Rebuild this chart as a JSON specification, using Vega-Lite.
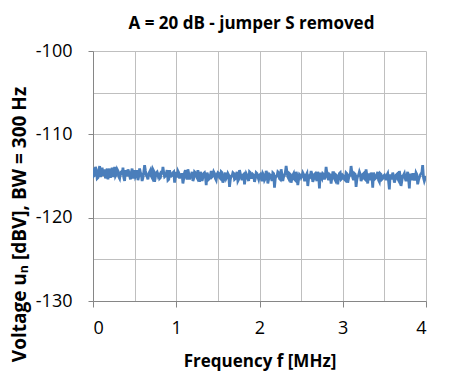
{
  "$schema": "https://vega.github.io/schema/vega-lite/v6.json",
  "width": 333,
  "height": 250,
  "autosize": "none",
  "padding": {"left": 93, "top": 51, "right": 45, "bottom": 90},
  "background": "white",
  "config": {"view": {"stroke": null}},
  "title": {"text": "A = 20 dB - jumper S removed", "font": "Open Sans", "fontSize": 17, "fontWeight": "bold", "color": "#000000", "anchor": "middle", "frame": "group", "dx": -8, "offset": 9},
  "data": {"values": [
    {"f":0,"u":-114.0},{"f":0.02,"u":-114.9},{"f":0.04,"u":-114.3},{"f":0.06,"u":-115.2},{"f":0.08,"u":-113.8},{"f":0.1,"u":-114.7},{"f":0.12,"u":-115.0},{"f":0.14,"u":-114.2},{"f":0.16,"u":-114.8},{"f":0.18,"u":-115.4},
    {"f":0.2,"u":-114.1},{"f":0.22,"u":-114.6},{"f":0.24,"u":-115.1},{"f":0.26,"u":-113.9},{"f":0.28,"u":-114.8},{"f":0.3,"u":-114.4},{"f":0.32,"u":-115.3},{"f":0.34,"u":-114.5},{"f":0.36,"u":-114.0},{"f":0.38,"u":-115.6},
    {"f":0.4,"u":-114.7},{"f":0.42,"u":-114.2},{"f":0.44,"u":-115.0},{"f":0.46,"u":-114.6},{"f":0.48,"u":-115.3},{"f":0.5,"u":-114.3},
    {"f":0.52,"u":-114.9},{"f":0.54,"u":-115.5},{"f":0.56,"u":-114.1},{"f":0.58,"u":-114.8},{"f":0.6,"u":-115.2},{"f":0.62,"u":-113.7},{"f":0.64,"u":-114.9},{"f":0.66,"u":-115.4},{"f":0.68,"u":-114.5},{"f":0.7,"u":-115.0},
    {"f":0.72,"u":-114.2},{"f":0.74,"u":-115.7},{"f":0.76,"u":-114.6},{"f":0.78,"u":-114.9},{"f":0.8,"u":-115.3},{"f":0.82,"u":-114.4},{"f":0.84,"u":-113.9},{"f":0.86,"u":-115.1},{"f":0.88,"u":-114.7},{"f":0.9,"u":-115.5},
    {"f":0.92,"u":-114.3},{"f":0.94,"u":-115.0},{"f":0.96,"u":-114.6},{"f":0.98,"u":-115.8},{"f":1.0,"u":-114.5},
    {"f":1.02,"u":-114.4},{"f":1.04,"u":-115.3},{"f":1.06,"u":-114.8},{"f":1.08,"u":-115.9},{"f":1.1,"u":-114.6},{"f":1.12,"u":-115.1},{"f":1.14,"u":-114.2},{"f":1.16,"u":-115.4},{"f":1.18,"u":-114.9},{"f":1.2,"u":-115.6},
    {"f":1.22,"u":-114.5},{"f":1.24,"u":-115.0},{"f":1.26,"u":-114.3},{"f":1.28,"u":-115.7},{"f":1.3,"u":-114.8},{"f":1.32,"u":-115.2},{"f":1.34,"u":-114.6},{"f":1.36,"u":-116.1},{"f":1.38,"u":-114.9},{"f":1.4,"u":-115.3},
    {"f":1.42,"u":-114.4},{"f":1.44,"u":-115.0},{"f":1.46,"u":-114.7},{"f":1.48,"u":-115.5},{"f":1.5,"u":-114.6},
    {"f":1.52,"u":-115.2},{"f":1.54,"u":-114.5},{"f":1.56,"u":-115.8},{"f":1.58,"u":-114.9},{"f":1.6,"u":-115.3},{"f":1.62,"u":-114.7},{"f":1.64,"u":-116.3},{"f":1.66,"u":-115.0},{"f":1.68,"u":-114.6},{"f":1.7,"u":-115.4},
    {"f":1.72,"u":-114.8},{"f":1.74,"u":-115.6},{"f":1.76,"u":-114.3},{"f":1.78,"u":-115.1},{"f":1.8,"u":-114.9},{"f":1.82,"u":-116.0},{"f":1.84,"u":-114.7},{"f":1.86,"u":-115.3},{"f":1.88,"u":-114.5},{"f":1.9,"u":-115.2},
    {"f":1.92,"u":-114.8},{"f":1.94,"u":-115.7},{"f":1.96,"u":-114.6},{"f":1.98,"u":-115.1},{"f":2.0,"u":-114.9},
    {"f":2.02,"u":-115.3},{"f":2.04,"u":-114.7},{"f":2.06,"u":-115.5},{"f":2.08,"u":-114.4},{"f":2.1,"u":-115.9},{"f":2.12,"u":-114.8},{"f":2.14,"u":-115.2},{"f":2.16,"u":-114.6},{"f":2.18,"u":-116.4},{"f":2.2,"u":-115.0},
    {"f":2.22,"u":-114.5},{"f":2.24,"u":-115.3},{"f":2.26,"u":-114.2},{"f":2.28,"u":-115.6},{"f":2.3,"u":-114.9},{"f":2.32,"u":-113.8},{"f":2.34,"u":-115.1},{"f":2.36,"u":-114.7},{"f":2.38,"u":-115.8},{"f":2.4,"u":-114.9},
    {"f":2.42,"u":-115.4},{"f":2.44,"u":-114.5},{"f":2.46,"u":-116.1},{"f":2.48,"u":-114.8},{"f":2.5,"u":-115.2},
    {"f":2.52,"u":-114.6},{"f":2.54,"u":-115.5},{"f":2.56,"u":-114.9},{"f":2.58,"u":-116.2},{"f":2.6,"u":-115.0},{"f":2.62,"u":-114.4},{"f":2.64,"u":-115.7},{"f":2.66,"u":-114.8},{"f":2.68,"u":-115.3},{"f":2.7,"u":-114.5},
    {"f":2.72,"u":-116.5},{"f":2.74,"u":-115.1},{"f":2.76,"u":-114.7},{"f":2.78,"u":-115.4},{"f":2.8,"u":-113.9},{"f":2.82,"u":-115.2},{"f":2.84,"u":-114.8},{"f":2.86,"u":-115.9},{"f":2.88,"u":-114.6},{"f":2.9,"u":-115.3},
    {"f":2.92,"u":-114.9},{"f":2.94,"u":-116.0},{"f":2.96,"u":-114.7},{"f":2.98,"u":-115.4},{"f":3.0,"u":-114.9},
    {"f":3.02,"u":-115.4},{"f":3.04,"u":-114.6},{"f":3.06,"u":-115.8},{"f":3.08,"u":-114.9},{"f":3.1,"u":-113.8},{"f":3.12,"u":-115.2},{"f":3.14,"u":-114.7},{"f":3.16,"u":-116.3},{"f":3.18,"u":-115.0},{"f":3.2,"u":-114.5},
    {"f":3.22,"u":-115.6},{"f":3.24,"u":-114.8},{"f":3.26,"u":-115.3},{"f":3.28,"u":-114.2},{"f":3.3,"u":-115.9},{"f":3.32,"u":-115.0},{"f":3.34,"u":-114.6},{"f":3.36,"u":-116.4},{"f":3.38,"u":-114.9},{"f":3.4,"u":-115.2},
    {"f":3.42,"u":-114.5},{"f":3.44,"u":-115.7},{"f":3.46,"u":-114.8},{"f":3.48,"u":-115.3},{"f":3.5,"u":-114.9},
    {"f":3.52,"u":-115.5},{"f":3.54,"u":-114.7},{"f":3.56,"u":-116.6},{"f":3.58,"u":-115.1},{"f":3.6,"u":-114.6},{"f":3.62,"u":-115.8},{"f":3.64,"u":-114.9},{"f":3.66,"u":-115.3},{"f":3.68,"u":-114.4},{"f":3.7,"u":-116.2},
    {"f":3.72,"u":-115.0},{"f":3.74,"u":-114.7},{"f":3.76,"u":-115.6},{"f":3.78,"u":-114.5},{"f":3.8,"u":-116.5},{"f":3.82,"u":-115.1},{"f":3.84,"u":-114.8},{"f":3.86,"u":-115.4},{"f":3.88,"u":-114.6},{"f":3.9,"u":-116.0},
    {"f":3.92,"u":-115.2},{"f":3.94,"u":-114.7},{"f":3.96,"u":-113.7},{"f":3.98,"u":-115.6},{"f":4.0,"u":-115.0},
    {"f":0.01,"u":-115.0},{"f":0.03,"u":-113.9},{"f":0.05,"u":-115.3},{"f":0.07,"u":-114.4},{"f":0.09,"u":-115.1},{"f":0.11,"u":-114.0},{"f":0.13,"u":-114.6},{"f":0.15,"u":-115.3},{"f":0.17,"u":-114.1},{"f":0.19,"u":-114.5},
    {"f":0.21,"u":-115.2},{"f":0.23,"u":-114.0},{"f":0.25,"u":-114.7},{"f":0.27,"u":-115.0},{"f":0.29,"u":-114.2},{"f":0.31,"u":-115.1},{"f":0.33,"u":-114.6},{"f":0.35,"u":-114.9},{"f":0.37,"u":-115.2},{"f":0.39,"u":-114.3},
    {"f":0.41,"u":-115.0},{"f":0.43,"u":-114.5},{"f":0.45,"u":-115.4},{"f":0.47,"u":-114.1},{"f":0.49,"u":-114.8},
    {"f":0.51,"u":-115.1},{"f":0.53,"u":-114.3},{"f":0.55,"u":-115.0},{"f":0.57,"u":-114.6},{"f":0.59,"u":-115.6},{"f":0.61,"u":-114.5},{"f":0.63,"u":-114.4},{"f":0.65,"u":-115.1},{"f":0.67,"u":-114.7},{"f":0.69,"u":-114.3},
    {"f":0.71,"u":-115.2},{"f":0.73,"u":-114.4},{"f":0.75,"u":-115.1},{"f":0.77,"u":-114.5},{"f":0.79,"u":-114.6},{"f":0.81,"u":-115.2},{"f":0.83,"u":-114.8},{"f":0.85,"u":-114.6},{"f":0.87,"u":-115.0},{"f":0.89,"u":-114.3},
    {"f":0.91,"u":-115.4},{"f":0.93,"u":-114.8},{"f":0.95,"u":-114.9},{"f":0.97,"u":-114.5},{"f":0.99,"u":-115.1},
    {"f":1.01,"u":-115.2},{"f":1.03,"u":-114.6},{"f":1.05,"u":-114.9},{"f":1.07,"u":-114.8},{"f":1.09,"u":-115.3},{"f":1.11,"u":-114.3},{"f":1.13,"u":-115.4},{"f":1.15,"u":-114.7},{"f":1.17,"u":-115.0},{"f":1.19,"u":-114.5},
    {"f":1.21,"u":-115.3},{"f":1.23,"u":-114.6},{"f":1.25,"u":-115.2},{"f":1.27,"u":-114.9},{"f":1.29,"u":-114.5},{"f":1.31,"u":-115.6},{"f":1.33,"u":-114.7},{"f":1.35,"u":-115.0},{"f":1.37,"u":-114.6},{"f":1.39,"u":-115.4},
    {"f":1.41,"u":-114.9},{"f":1.43,"u":-115.1},{"f":1.45,"u":-114.5},{"f":1.47,"u":-115.3},{"f":1.49,"u":-114.8},
    {"f":1.51,"u":-114.7},{"f":1.53,"u":-115.3},{"f":1.55,"u":-114.6},{"f":1.57,"u":-115.5},{"f":1.59,"u":-114.6},{"f":1.61,"u":-115.1},{"f":1.63,"u":-114.9},{"f":1.65,"u":-115.4},{"f":1.67,"u":-115.0},{"f":1.69,"u":-114.7},
    {"f":1.71,"u":-115.3},{"f":1.73,"u":-114.5},{"f":1.75,"u":-115.4},{"f":1.77,"u":-114.7},{"f":1.79,"u":-115.5},{"f":1.81,"u":-114.8},{"f":1.83,"u":-115.2},{"f":1.85,"u":-114.9},{"f":1.87,"u":-115.6},{"f":1.89,"u":-114.6},
    {"f":1.91,"u":-115.2},{"f":1.93,"u":-114.9},{"f":1.95,"u":-115.3},{"f":1.97,"u":-114.7},{"f":1.99,"u":-115.4},
    {"f":2.01,"u":-114.8},{"f":2.03,"u":-115.6},{"f":2.05,"u":-114.9},{"f":2.07,"u":-115.3},{"f":2.09,"u":-114.7},{"f":2.11,"u":-115.4},{"f":2.13,"u":-114.9},{"f":2.15,"u":-115.6},{"f":2.17,"u":-114.7},{"f":2.19,"u":-115.3},
    {"f":2.21,"u":-115.0},{"f":2.23,"u":-114.6},{"f":2.25,"u":-115.4},{"f":2.27,"u":-114.8},{"f":2.29,"u":-115.1},{"f":2.31,"u":-114.6},{"f":2.33,"u":-114.5},{"f":2.35,"u":-115.3},{"f":2.37,"u":-114.8},{"f":2.39,"u":-115.3},
    {"f":2.41,"u":-114.7},{"f":2.43,"u":-115.5},{"f":2.45,"u":-114.9},{"f":2.47,"u":-115.4},{"f":2.49,"u":-114.9},
    {"f":2.51,"u":-115.0},{"f":2.53,"u":-114.8},{"f":2.55,"u":-115.5},{"f":2.57,"u":-114.7},{"f":2.59,"u":-115.3},{"f":2.61,"u":-115.1},{"f":2.63,"u":-114.8},{"f":2.65,"u":-115.4},{"f":2.67,"u":-114.7},{"f":2.69,"u":-115.6},
    {"f":2.71,"u":-115.0},{"f":2.73,"u":-114.6},{"f":2.75,"u":-115.3},{"f":2.77,"u":-114.8},{"f":2.79,"u":-115.0},{"f":2.81,"u":-114.7},{"f":2.83,"u":-115.5},{"f":2.85,"u":-114.9},{"f":2.87,"u":-115.2},{"f":2.89,"u":-114.6},
    {"f":2.91,"u":-115.5},{"f":2.93,"u":-115.0},{"f":2.95,"u":-115.2},{"f":2.97,"u":-114.6},{"f":2.99,"u":-115.3},
    {"f":3.01,"u":-115.0},{"f":3.03,"u":-115.5},{"f":3.05,"u":-114.7},{"f":3.07,"u":-115.3},{"f":3.09,"u":-114.9},{"f":3.11,"u":-114.6},{"f":3.13,"u":-115.5},{"f":3.15,"u":-114.8},{"f":3.17,"u":-115.4},{"f":3.19,"u":-114.9},
    {"f":3.21,"u":-114.8},{"f":3.23,"u":-115.3},{"f":3.25,"u":-114.7},{"f":3.27,"u":-115.4},{"f":3.29,"u":-114.9},{"f":3.31,"u":-114.7},{"f":3.33,"u":-115.5},{"f":3.35,"u":-115.0},{"f":3.37,"u":-114.6},{"f":3.39,"u":-115.3},
    {"f":3.41,"u":-114.9},{"f":3.43,"u":-115.5},{"f":3.45,"u":-114.7},{"f":3.47,"u":-115.4},{"f":3.49,"u":-115.0},
    {"f":3.51,"u":-115.2},{"f":3.53,"u":-114.9},{"f":3.55,"u":-115.6},{"f":3.57,"u":-114.8},{"f":3.59,"u":-115.4},{"f":3.61,"u":-115.0},{"f":3.63,"u":-115.4},{"f":3.65,"u":-114.8},{"f":3.67,"u":-115.5},{"f":3.69,"u":-115.0},
    {"f":3.71,"u":-115.6},{"f":3.73,"u":-114.9},{"f":3.75,"u":-115.3},{"f":3.77,"u":-115.0},{"f":3.79,"u":-115.3},{"f":3.81,"u":-114.7},{"f":3.83,"u":-115.5},{"f":3.85,"u":-114.8},{"f":3.87,"u":-115.4},{"f":3.89,"u":-114.8},
    {"f":3.91,"u":-115.5},{"f":3.93,"u":-114.9},{"f":3.95,"u":-114.6},{"f":3.97,"u":-115.2},{"f":3.99,"u":-115.3}
  ]},
  "mark": {"type": "line", "color": "#4a7ebb", "strokeWidth": 2.75, "clip": true},
  "encoding": {
    "x": {
      "field": "f", "type": "quantitative",
      "scale": {"domain": [0, 4], "nice": false, "zero": false},
      "axis": {
        "title": "Frequency f [MHz]",
        "values": [0, 0.5, 1, 1.5, 2, 2.5, 3, 3.5, 4],
        "labelExpr": "datum.value % 1 === 0 ? '' + datum.value : ''",
        "grid": true, "gridColor": "#bfbfbf", "gridWidth": 1, "gridOpacity": 1,
        "domainColor": "#868686", "domainWidth": 1,
        "tickColor": "#868686", "tickSize": 6,
        "tickOpacity": {"condition": {"test": "datum.value % 1 !== 0", "value": 0}, "value": 1},
        "labelFont": "Open Sans", "labelFontSize": 18, "labelColor": "#000000", "labelPadding": 12,
        "titleFont": "Open Sans", "titleFontSize": 17, "titleFontWeight": "bold", "titleColor": "#000000", "titlePadding": 16
      }
    },
    "y": {
      "field": "u", "type": "quantitative",
      "scale": {"domain": [-130, -100], "nice": false, "zero": false},
      "axis": {
        "title": "Voltage uₙ [dBV], BW = 300 Hz",
        "values": [-130, -125, -120, -115, -110, -105, -100],
        "labelExpr": "datum.value % 10 === 0 ? '' + datum.value : ''",
        "grid": true, "gridColor": "#bfbfbf", "gridWidth": 1, "gridOpacity": 1,
        "domainColor": "#868686", "domainWidth": 1,
        "tickColor": "#868686", "tickSize": 5,
        "tickOpacity": {"condition": {"test": "datum.value % 10 !== 0", "value": 0}, "value": 1},
        "labelFont": "Open Sans", "labelFontSize": 18, "labelColor": "#000000", "labelPadding": 16,
        "titleFont": "Open Sans", "titleFontSize": 19, "titleFontWeight": "bold", "titleColor": "#000000", "titlePadding": 6, "titleY": 173
      }
    }
  }
}
